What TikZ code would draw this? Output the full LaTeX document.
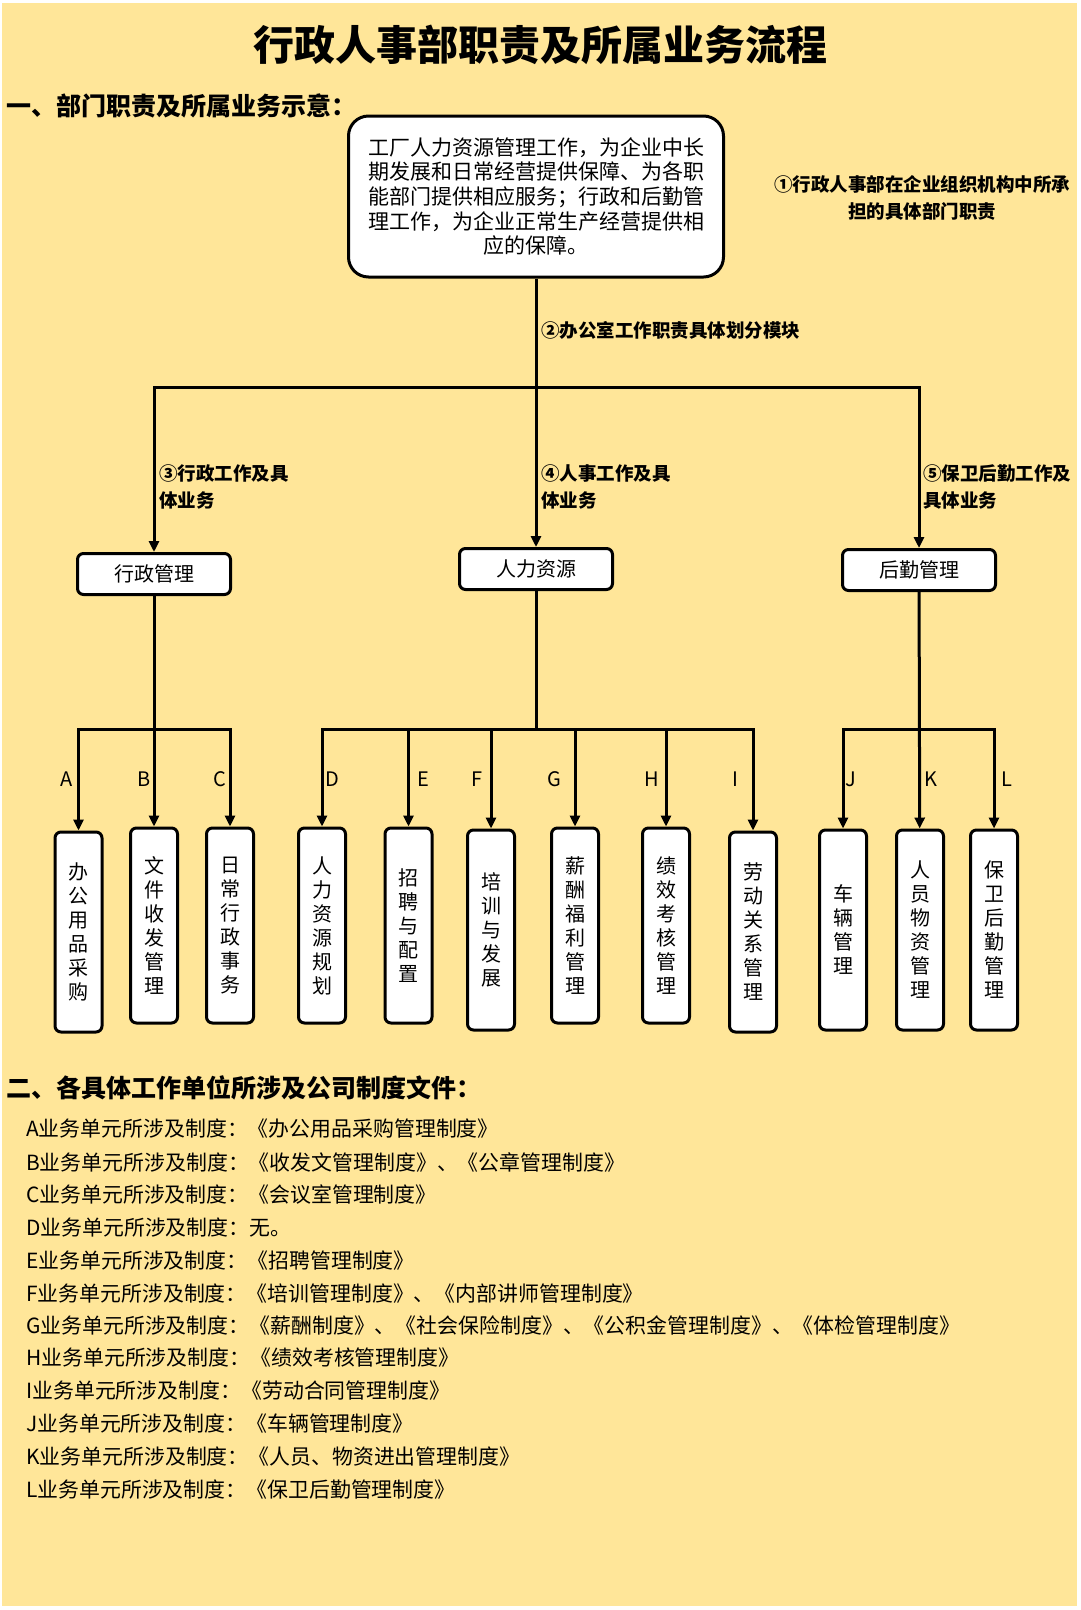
\documentclass[tikz,border=0pt]{standalone}
\usepackage{fontspec}
\setmainfont{Noto Sans CJK SC}
\usetikzlibrary{positioning,arrows.meta}
\definecolor{bgyellow}{RGB}{255,230,153}

\begin{document}
\begin{tikzpicture}[x=1pt, y=-1pt,
  lnk/.style={line width=3pt},
  arr/.style={lnk, -{Triangle[length=11pt,width=10pt]}},
  duty/.style={draw, line width=3pt, rounded corners=20pt, fill=white, align=center, font=\fontsize{21}{24.6}\selectfont, minimum width=375pt, minimum height=161pt, inner sep=0pt},
  dept/.style={draw, line width=3pt, rounded corners=6pt, fill=white, font=\fontsize{20}{24}\selectfont, minimum width=153pt, minimum height=41pt, inner sep=0pt},
  unit/.style={draw, line width=3pt, rounded corners=6pt, fill=white, align=center, font=\fontsize{20}{24}\selectfont, minimum width=47pt, minimum height=195pt, inner sep=0pt},
  note/.style={font=\fontsize{18.5}{27}\selectfont\bfseries, align=left, anchor=west, inner sep=0pt},
  tag/.style={font=\fontsize{20}{20}\selectfont, inner sep=0pt},
  hd/.style={font=\fontsize{25}{28}\selectfont\bfseries, anchor=west, inner sep=0pt},
  item/.style={font=\fontsize{20.9}{24}\selectfont, anchor=west, inner sep=0pt}
]
% page
\useasboundingbox (0,0) rectangle (1080,1610);
\fill[white] (0,0) rectangle (1080,1610);
\fill[bgyellow] (2,3) rectangle (1077,1606);

\node[font=\fontsize{41}{45}\selectfont\bfseries] (title) at (540,45) {行政人事部职责及所属业务流程};
\node[hd] (h1) at (6,106) {一、部门职责及所属业务示意：};

% top box
\node[duty] (top) at (536,196.5) {工厂人力资源管理工作，为企业中长\\期发展和日常经营提供保障、为各职\\能部门提供相应服务；行政和后勤管\\理工作，为企业正常生产经营提供相\\应的保障。};
\node[note, anchor=center, align=center] (n1) at (922,197.5) {①行政人事部在企业组织机构中所承\\担的具体部门职责};
\node[note] (n2) at (541,330) {②办公室工作职责具体划分模块};

% departments
\node[dept] (adm) at (154,574) {行政管理};
\node[dept] (hr) at (536,569) {人力资源};
\node[dept] (log) at (919,570) {后勤管理};

\coordinate (jm) at (536,387);
\coordinate (jl) at (154,387);
\coordinate (jr) at (919,387);
\draw[arr] (top) -- (hr);
\draw[arr] (jm) -- (jl) -- (adm);
\draw[arr] (jm) -- (jr) -- (log);

\node[note] (n3) at (159,487) {③行政工作及具\\体业务};
\node[note] (n4) at (541,487) {④人事工作及具\\体业务};
\node[note] (n5) at (923,487) {⑤保卫后勤工作及\\具体业务};

% units
\node[unit, minimum height=200pt] (ua) at (78.5,932) {办\\公\\用\\品\\采\\购};
\node[unit] (ub) at (154,925.5) {文\\件\\收\\发\\管\\理};
\node[unit] (uc) at (230,925.5) {日\\常\\行\\政\\事\\务};
\node[unit] (ud) at (322,925.5) {人\\力\\资\\源\\规\\划};
\node[unit] (ue) at (408.5,925.5) {招\\聘\\与\\配\\置};
\node[unit, minimum height=200pt] (uf) at (491,930) {培\\训\\与\\发\\展};
\node[unit] (ug) at (575,925.5) {薪\\酬\\福\\利\\管\\理};
\node[unit] (uh) at (666,925.5) {绩\\效\\考\\核\\管\\理};
\node[unit, minimum height=200pt] (ui) at (753,932) {劳\\动\\关\\系\\管\\理};
\node[unit, minimum height=200pt] (uj) at (843,930) {车\\辆\\管\\理};
\node[unit, minimum height=200pt] (uk) at (920,930) {人\\员\\物\\资\\管\\理};
\node[unit, minimum height=200pt] (ul) at (994,930) {保\\卫\\后\\勤\\管\\理};

% admin branch
\coordinate (ka) at (78.5,729);
\coordinate (kb) at (154,729);
\coordinate (kc) at (230,729);
\draw[arr] (adm) -- (ub);
\draw[arr] (kb) -- (ka) -- (ua);
\draw[arr] (kb) -- (kc) -- (uc);

% hr branch
\coordinate (kh) at (536,729);
\coordinate (kd) at (322,729);
\coordinate (ki) at (753,729);
\draw[lnk] (hr) -- (kh);
\draw[arr] (kh) -- (kd) -- (ud);
\draw[arr] (kh) -- (ki) -- (ui);
\draw[arr] (ue |- kh) -- (ue);
\draw[arr] (uf |- kh) -- (uf);
\draw[arr] (ug |- kh) -- (ug);
\draw[arr] (uh |- kh) -- (uh);

% logistics branch
\coordinate (kj) at (843,729);
\coordinate (kk) at (920,729);
\coordinate (kl) at (994,729);
\draw[arr] (log) -- (uk);
\draw[arr] (kk) -- (kj) -- (uj);
\draw[arr] (kk) -- (kl) -- (ul);

% letters
\node[tag] (ta) at (67,779) {A};
\node[tag] (tb) at (144,779) {B};
\node[tag] (tc) at (220,779) {C};
\node[tag] (td) at (332,779) {D};
\node[tag] (te) at (423,779) {E};
\node[tag] (tf) at (477,779) {F};
\node[tag] (tg) at (554.5,779) {G};
\node[tag] (th) at (652,779) {H};
\node[tag] (ti) at (735.5,779) {I};
\node[tag] (tj) at (851,779) {J};
\node[tag] (tk) at (931,779) {K};
\node[tag] (tl) at (1007,779) {L};

% section two
\node[hd] (h2) at (6,1088) {二、各具体工作单位所涉及公司制度文件：};
\node[item] (ra) at (26,1129) {A业务单元所涉及制度：《办公用品采购管理制度》};
\node[item] (rb) at (26,1162) {B业务单元所涉及制度：《收发文管理制度》、《公章管理制度》};
\node[item] (rc) at (26,1195) {C业务单元所涉及制度：《会议室管理制度》};
\node[item] (rd) at (26,1228) {D业务单元所涉及制度：无。};
\node[item] (re) at (26,1261) {E业务单元所涉及制度：《招聘管理制度》};
\node[item] (rf) at (26,1294) {F业务单元所涉及制度：《培训管理制度》、《内部讲师管理制度》};
\node[item] (rg) at (26,1326) {G业务单元所涉及制度：《薪酬制度》、《社会保险制度》、《公积金管理制度》、《体检管理制度》};
\node[item] (rh) at (26,1358) {H业务单元所涉及制度：《绩效考核管理制度》};
\node[item] (ri) at (26,1391) {I业务单元所涉及制度：《劳动合同管理制度》};
\node[item] (rj) at (26,1424) {J业务单元所涉及制度：《车辆管理制度》};
\node[item] (rk) at (26,1457) {K业务单元所涉及制度：《人员、物资进出管理制度》};
\node[item] (rl) at (26,1490) {L业务单元所涉及制度：《保卫后勤管理制度》};
\end{tikzpicture}
\end{document}
